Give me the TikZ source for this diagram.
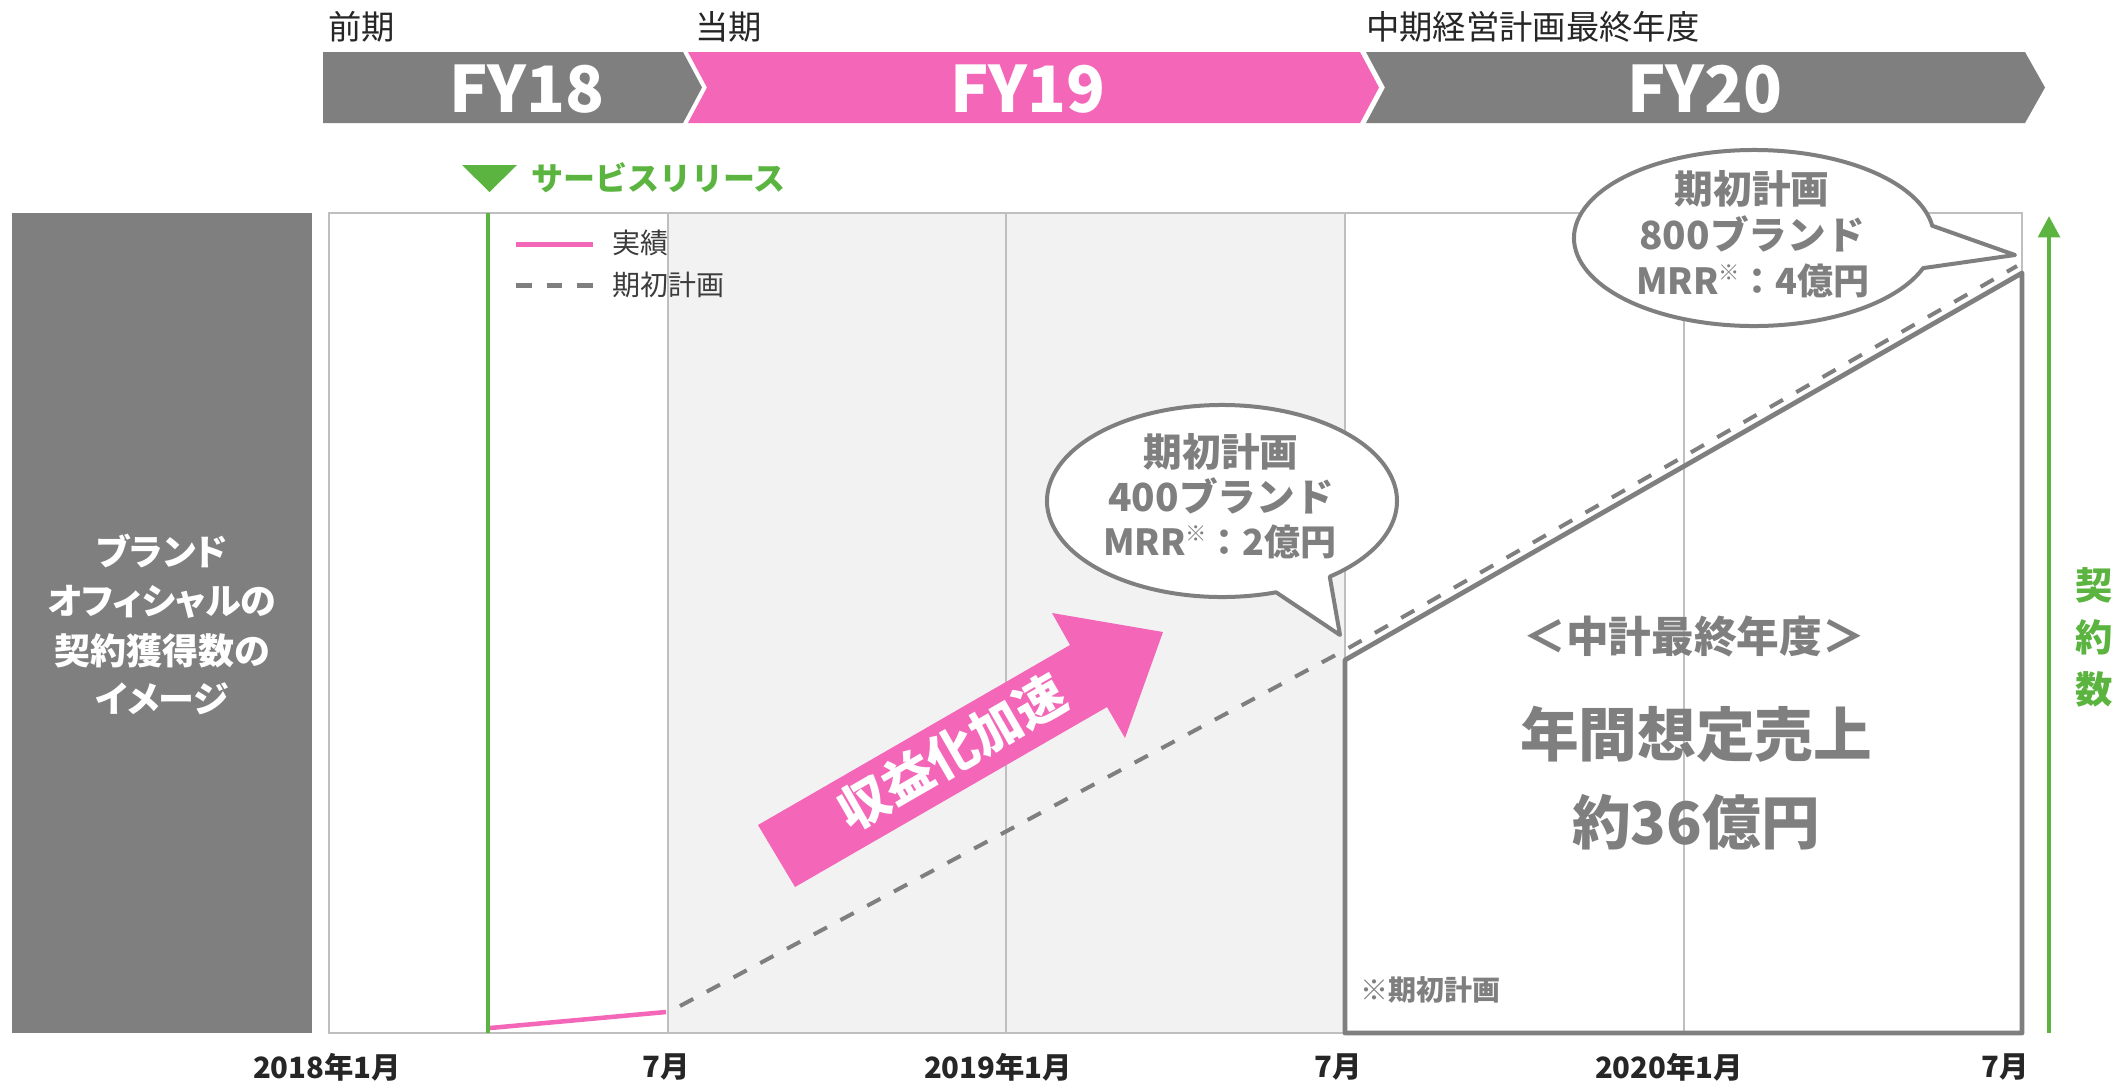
\documentclass[tikz,border=0pt]{standalone}
\usepackage{fontspec}
\setmainfont{Noto Sans CJK JP}
\newfontfamily\paltfont{Noto Sans CJK JP}[RawFeature=+palt]
\usetikzlibrary{arrows.meta}
\definecolor{pinkc}{HTML}{F366B8}
\definecolor{grayc}{HTML}{7F7F7F}
\definecolor{greenc}{HTML}{5BB43F}
\definecolor{gridc}{HTML}{BFBFBF}
\definecolor{shadec}{HTML}{F2F2F2}
\definecolor{darkt}{HTML}{262626}
\newcommand\kome{\raisebox{0.38em}{\fontsize{16}{16}\selectfont ※}}
\begin{document}
\begin{tikzpicture}[x=0.75pt,y=-0.75pt,
  lbl/.style={inner sep=0pt, outer sep=0pt},
  fytext/.style={lbl, text=white, font=\bfseries\fontsize{48}{48}\selectfont, anchor=base},
  toplbl/.style={lbl, anchor=west, text=darkt, font=\fontsize{25}{25}\selectfont},
  axl/.style={lbl, text=darkt, font=\bfseries\fontsize{22}{22}\selectfont},
  bubble/.style={draw=grayc, line width=3pt, fill=white, line join=round},
  btext/.style={lbl, text=grayc, font=\bfseries\fontsize{29}{29}\selectfont},
  bsmall/.style={lbl, text=grayc, font=\bfseries\fontsize{27}{27}\selectfont},
  bigt/.style={lbl, text=grayc, font=\bfseries\fontsize{44}{44}\selectfont},
  legt/.style={lbl, anchor=west, text=darkt!90, font=\fontsize{21}{21}\selectfont},
  ttlt/.style={lbl, text=white, font=\paltfont\bfseries\fontsize{27}{27}\selectfont},
  gridl/.style={draw=gridc, line width=1.1pt},
  planline/.style={draw=grayc, line width=3pt, dash pattern=on 11.25pt off 11.5pt},
]
\useasboundingbox (0,0) rectangle (2117,1083);
\fill[white] (0,0) rectangle (2117,1083);

% banner
\fill[grayc] (323,52) -- (683,52) -- (702,87.5) -- (683,123) -- (323,123) -- cycle;
\fill[pinkc] (688,52) -- (1360,52) -- (1379,87.5) -- (1360,123) -- (688,123) -- (707,87.5) -- cycle;
\fill[grayc] (1366,52) -- (2025,52) -- (2045,87.5) -- (2025,123) -- (1366,123) -- (1385,87.5) -- cycle;
\node[fytext] (fy18) at (527,112) {FY18};
\node[fytext] (fy19) at (1028,112) {FY19};
\node[fytext] (fy20) at (1705,112) {FY20};
\node[toplbl] (prev) at (328,27) {前期};
\node[toplbl] (curr) at (695,27) {当期};
\node[toplbl] (mtp) at (1366,27) {中期経営計画最終年度};

% service release
\fill[greenc] (462,165) -- (517,165) -- (489.5,192) -- cycle;
\node[lbl, anchor=west, text=greenc, font=\bfseries\fontsize{24}{24}\selectfont] (svc) at (531,178) {サービスリリース};

% left title box
\fill[grayc] (12,213) rectangle (312,1033);
\node[ttlt] (t1) at (162,551) {ブランド};
\node[ttlt] (t2) at (162,602) {オフィシャルの};
\node[ttlt] (t3) at (162,651) {契約獲得数の};
\node[ttlt] (t4) at (162,699) {イメージ};

% chart
\fill[shadec] (668,213) rectangle (1345,1033);
\draw[gridl] (668,213) -- (668,1033);
\draw[gridl] (1006,213) -- (1006,1033);
\draw[gridl] (1345,213) -- (1345,1033);
\draw[gridl] (1684,213) -- (1684,1033);
\draw[gridl] (329,213) rectangle (2022,1033);

\draw[greenc, line width=3pt] (488,213) -- (488,1033);
\draw[pinkc, line width=3.4pt] (490,1028) -- (666,1012);
\draw[planline] (680,1006) -- (1345,650) -- (2017,266);
\draw[grayc, line width=3.6pt, line join=round] (1345,1033) -- (1345,660) -- (2022,273) -- (2022,1033) -- cycle;

% legend
\draw[pinkc, line width=3.75pt] (516,244) -- (593,244);
\draw[grayc, line width=3.75pt, dash pattern=on 11.7pt off 11.25pt] (516,285) -- (593,285);
\node[legt] (l1) at (612,243) {実績};
\node[legt] (l2) at (612,285) {期初計画};

% green axis arrow
\draw[greenc, line width=3.4pt, -{Triangle[width=16pt,length=16pt]}] (2049,1033) -- (2049,216);
\node[lbl, align=center, text=greenc, font=\bfseries\fontsize{28}{39}\selectfont] (kei) at (2094,637) {契\\約\\数};

% pink arrow
\fill[pinkc] (758,825) -- (1070,645) -- (1052,613) -- (1163,632) -- (1125,738) -- (1107,707) -- (795,887) -- cycle;
\node[lbl, text=white, font=\bfseries\fontsize{38}{38}\selectfont, rotate=30] (acc) at (952,752) {収益化加速};

% bubbles
\draw[bubble] (1222,501) ++(72:175 and 96) arc[start angle=72, end angle=412, x radius=175, y radius=96] -- (1340,635) -- cycle;
\node[btext] (b4a) at (1221,452) {期初計画};
\node[btext] (b4b) at (1221,496) {400ブランド};
\node[bsmall] (b4c) at (1220,542) {MRR\kome：2億円};

\draw[bubble] (1754,238) ++(20:180 and 88) arc[start angle=20, end angle=352, x radius=180, y radius=88] -- (2015,255) -- cycle;
\node[btext] (b8a) at (1752,189) {期初計画};
\node[btext] (b8b) at (1752,234) {800ブランド};
\node[bsmall] (b8c) at (1753,281) {MRR\kome：4億円};

% final-year box texts
\node[lbl, text=grayc, font=\bfseries\fontsize{32}{32}\selectfont] (mid) at (1694,636) {＜中計最終年度＞};
\node[bigt] (nen) at (1696,734) {年間想定売上};
\node[bigt] (yak) at (1696,822) {約36億円};
\node[lbl, anchor=west, text=grayc, font=\bfseries\fontsize{21}{21}\selectfont] (note) at (1360,990) {※期初計画};

% axis labels
\node[axl] (a1) at (327,1067) {2018年1月};
\node[axl] (a2) at (666,1067) {7月};
\node[axl] (a3) at (998,1067) {2019年1月};
\node[axl] (a4) at (1338,1067) {7月};
\node[axl] (a5) at (1669,1067) {2020年1月};
\node[axl] (a6) at (2005,1067) {7月};
\end{tikzpicture}
\end{document}
